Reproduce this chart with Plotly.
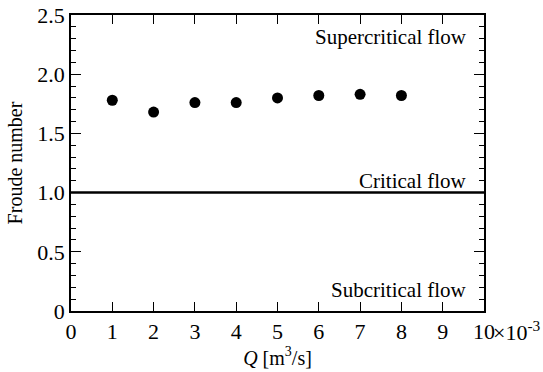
import plotly.graph_objects as go

Q = [1, 2, 3, 4, 5, 6, 7, 8]
froude = [1.78, 1.68, 1.76, 1.76, 1.80, 1.82, 1.83, 1.82]
critical_x = [0, 10]
critical_y = [1.0, 1.0]
x_ticks = [0, 1, 2, 3, 4, 5, 6, 7, 8, 9, 10]
x_ticktext = ["0", "1", "2", "3", "4", "5", "6", "7", "8", "9", "10"]
y_ticks = [0, 0.5, 1.0, 1.5, 2.0, 2.5]
y_ticktext = ["0", "0.5", "1.0", "1.5", "2.0", "2.5"]

font = "Liberation Serif"

fig = go.Figure()
fig.add_trace(go.Scatter(x=critical_x, y=critical_y, mode="lines",
                         line=dict(color="black", width=2.5), showlegend=False, hoverinfo="skip"))
fig.add_trace(go.Scatter(x=Q, y=froude, mode="markers",
                         marker=dict(color="black", size=11), showlegend=False))

pl, pr, pt, pb = 71, 484, 15, 311

fig.update_layout(
    width=543, height=372,
    margin=dict(l=pl, r=543 - pr, t=pt, b=372 - pb, autoexpand=False),
    plot_bgcolor="white", paper_bgcolor="white",
    font=dict(family=font, color="black"),
    xaxis=dict(range=[0, 10], tickvals=x_ticks, ticktext=x_ticktext, automargin=False,
               ticks="inside", ticklen=9, tickwidth=1, tickcolor="black",
               showline=True, linecolor="black", linewidth=1.5, mirror="ticks",
               showgrid=False, zeroline=False, tickfont=dict(size=22, family=font, color="black"),
               title=dict(text="<i>Q</i> [m<sup>3</sup>/s]", font=dict(size=20, family=font, color="black"), standoff=2)),
    yaxis=dict(range=[0, 2.5], tickvals=y_ticks, ticktext=y_ticktext, automargin=False,
               ticks="inside", ticklen=10, tickwidth=1, tickcolor="black",
               minor=dict(ticks="inside", dtick=0.1, ticklen=5, tickcolor="black", tickwidth=1, showgrid=False),
               showline=True, linecolor="black", linewidth=1.5, mirror="ticks",
               showgrid=False, zeroline=False, tickfont=dict(size=22, family=font, color="black"),
               title=dict(text="Froude number", font=dict(size=20, family=font, color="black"), standoff=9)),
)

ann_text = ["Supercritical flow", "Critical flow", "Subcritical flow"]
ann_px = [(469, 37), (469, 181), (469, 290)]
annotations = []
for t, (px, py) in zip(ann_text, ann_px):
    annotations.append(dict(
        x=(px - pl) / (pr - pl), y=(pb - py) / (pb - pt), xref="paper", yref="paper",
        xanchor="right", yanchor="middle", text=t, showarrow=False,
        font=dict(size=21, family=font, color="black")))
annotations.append(dict(
    x=(491 - pl) / (pr - pl), y=(pb - 331) / (pb - pt), xref="paper", yref="paper",
    xanchor="left", yanchor="middle", text="×10<sup>-3</sup>", showarrow=False,
    font=dict(size=22, family=font, color="black")))
fig.update_layout(annotations=annotations)

fig.write_html("out.html", config={"displayModeBar": False},
               post_script="document.body.style.margin='0';document.body.style.overflow='hidden';")
